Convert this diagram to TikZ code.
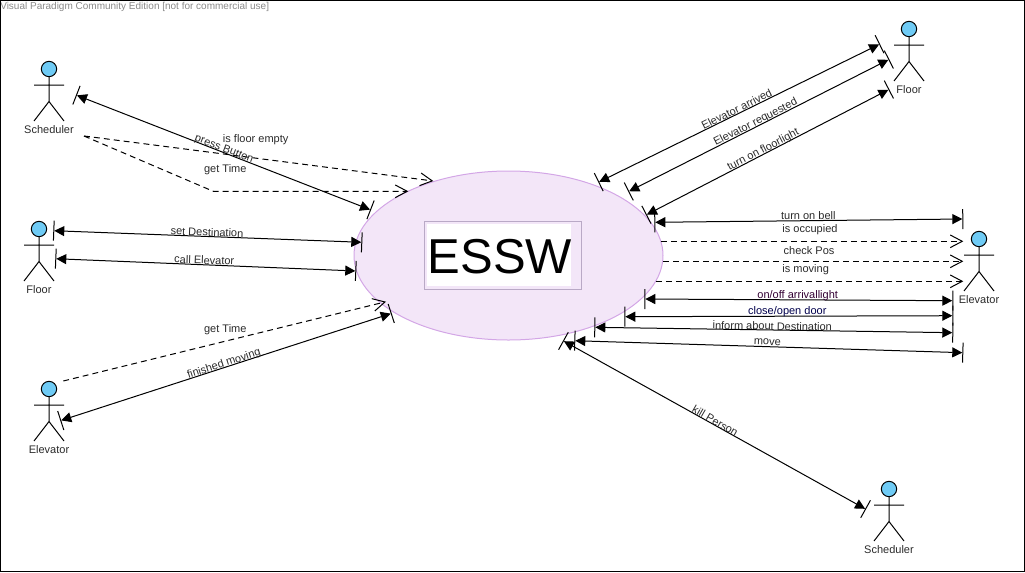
\documentclass[tikz,border=0pt]{standalone}
\usepackage{fontspec}
\setmainfont{Liberation Sans}
\usetikzlibrary{arrows.meta,shapes.geometric}
\definecolor{headblue}{HTML}{6FCBF5}
\definecolor{ellfill}{HTML}{F3E6F8}
\definecolor{elldraw}{HTML}{D3A6E6}
\definecolor{boxdraw}{HTML}{B9A9C6}
\definecolor{wm}{HTML}{8A8A8A}
\definecolor{lbl}{HTML}{2A2A2A}
\tikzset{
  assoc/.style={line width=.75pt,black,{Bar[width=15pt,line width=.75pt].Triangle[length=7.5pt,width=7.5pt]}-{Triangle[length=7.5pt,width=7.5pt].Bar[width=15pt,line width=.75pt]}},
  dep/.style={line width=.75pt,black,dash pattern=on 4.4pt off 3.1pt,-{Straight Barb[length=9pt,width=9.5pt,line width=.75pt]}},
  lab/.style={font=\fontsize{8.25pt}{10pt}\selectfont,text=lbl,inner sep=0pt,yshift=-.6pt},
  actorline/.style={line width=.75pt,black},
  actor/.pic={
    \node[circle,draw=black,fill=headblue,line width=.75pt,minimum size=11.5pt,inner sep=0pt] (-head) at (0,0) {};
    \draw[actorline] (-head.south) -- (0,32.5) (-15,16) -- (15,16) (-15,52) -- (0,32.5) -- (15,52);
    \node[lab] (-name) at (0,60) {#1};
  }
}
\begin{document}
\begin{tikzpicture}[x=.75pt,y=-.75pt]
\useasboundingbox (0,0) rectangle (1025,572);
\node[ellipse,draw=elldraw,fill=ellfill,line width=.75pt,minimum width=231.75pt,minimum height=126.75pt,inner sep=0pt] (sys) at (508.5,255.5) {};
\node[draw=boxdraw,line width=.75pt,minimum width=117.5pt,minimum height=51pt,inner sep=0pt] (sysbox) at (502.75,255) {};
\node[fill=white,minimum width=108pt,minimum height=46.5pt,inner sep=0pt] (titlebg) at (499,255) {};
\node[inner sep=0pt,font=\fontsize{36.75pt}{40pt}\selectfont,text=black] (title) at (500,257) {ESSW};
\node[font=\fontsize{7.5pt}{9pt}\selectfont,text=wm,anchor=west,inner sep=0pt] (wmark) at (0,6.7) {Visual Paradigm Community Edition [not for commercial use]};

\pic (schedA) at (49,69) {actor=Scheduler};
\pic (floorA) at (39,229) {actor=Floor};
\pic (elevA) at (49,389) {actor=Elevator};
\pic (floorB) at (909,29) {actor=Floor};
\pic (elevB) at (979,239) {actor=Elevator};
\pic (schedB) at (889,489) {actor=Scheduler};

\coordinate (pb1) at (76,95);       \coordinate (pb2) at (371,210);
\coordinate (sd1) at (53.3,230.7);  \coordinate (sd2) at (362.3,242.3);
\coordinate (ce1) at (55.3,258.7);  \coordinate (ce2) at (356.3,271);
\coordinate (ife1) at (84,136);     \coordinate (ife2) at (433.3,181);
\coordinate (gt1) at (84,136);      \coordinate (gtm) at (213.3,191.3); \coordinate (gt2) at (408.3,191.3);
\coordinate (ea1) at (598.3,182.3); \coordinate (ea2) at (880,44);
\coordinate (er1) at (628.3,191.7); \coordinate (er2) at (889.3,59.3);
\coordinate (tf1) at (646,215);     \coordinate (tf2) at (889.3,89.3);
\coordinate (tb1) at (654.3,222.3); \coordinate (tb2) at (963.3,219);
\coordinate (io1) at (661,241.3);   \coordinate (io2) at (963.3,241.3);
\coordinate (cp1) at (663,261.3);   \coordinate (cp2) at (963.3,261.3);
\coordinate (im1) at (656,281.3);   \coordinate (im2) at (963.3,281.3);
\coordinate (oo1) at (644.3,299);   \coordinate (oo2) at (953.3,300.7);
\coordinate (co1) at (624.3,316.7); \coordinate (co2) at (953.3,315.7);
\coordinate (id1) at (594.3,327.3); \coordinate (id2) at (953.3,332.7);
\coordinate (mv1) at (574.3,340.7); \coordinate (mv2) at (963.3,352.7);
\coordinate (kp1) at (563,340.7);   \coordinate (kp2) at (866,509.3);
\coordinate (fm1) at (60.3,420.7);  \coordinate (fm2) at (391.7,313.3);
\coordinate (gb1) at (63.3,381);    \coordinate (gb2) at (386,301.7);

\draw[assoc] (pb1) -- (pb2);
\draw[assoc] (sd1) -- (sd2);
\draw[assoc] (ce1) -- (ce2);
\draw[dep] (ife1) -- (ife2);
\draw[dep] (gt1) -- (gtm) -- (gt2);
\draw[assoc] (ea1) -- (ea2);
\draw[assoc] (er1) -- (er2);
\draw[assoc] (tf1) -- (tf2);
\draw[assoc] (tb1) -- (tb2);
\draw[dep] (io1) -- (io2);
\draw[dep] (cp1) -- (cp2);
\draw[dep] (im1) -- (im2);
\draw[assoc] (oo1) -- (oo2);
\draw[assoc] (co1) -- (co2);
\draw[assoc] (id1) -- (id2);
\draw[assoc] (mv1) -- (mv2);
\draw[assoc] (kp1) -- (kp2);
\draw[assoc] (fm1) -- (fm2);
\draw[dep] (gb1) -- (gb2);

\node[lab,rotate=-21] (lpb) at (224,148.3) {press Button};
\node[lab] (life) at (255.7,139.3) {is floor empty};
\node[lab] (lgt) at (225.3,169.3) {get Time};
\node[lab,rotate=-2] (lsd) at (207,231.3) {set Destination};
\node[lab,rotate=-2] (lce) at (204.3,259.3) {call Elevator};
\node[lab] (lgb) at (225.3,329.3) {get Time};
\node[lab,rotate=18] (lfm) at (224,363.3) {finished moving};
\node[lab,rotate=26.5] (lea) at (736.7,108.3) {Elevator arrived};
\node[lab,rotate=27] (ler) at (755.7,121.7) {Elevator requested};
\node[lab,rotate=27.5] (ltf) at (763.3,149.3) {turn on floorlight};
\node[lab] (ltb) at (808.3,215) {turn on bell};
\node[lab] (lio) at (810,229.3) {is occupied};
\node[lab] (lcp) at (809,249.3) {check Pos};
\node[lab] (lim) at (805.7,269.3) {is moving};
\node[lab,text=black!60!violet] (loo) at (797.7,295.3) {on/off arrivallight};
\node[lab,text=black!70!blue] (lco) at (787.3,311.3) {close/open door};
\node[lab,rotate=-1] (lid) at (772.3,325.3) {inform about Destination};
\node[lab,rotate=-2] (lmv) at (767.3,341.3) {move};
\node[lab,rotate=-30] (lkp) at (715.3,420) {kill Person};

\draw[black,line width=.75pt] (0.5,0.5) rectangle (1024.5,571.5);
\end{tikzpicture}
\end{document}
